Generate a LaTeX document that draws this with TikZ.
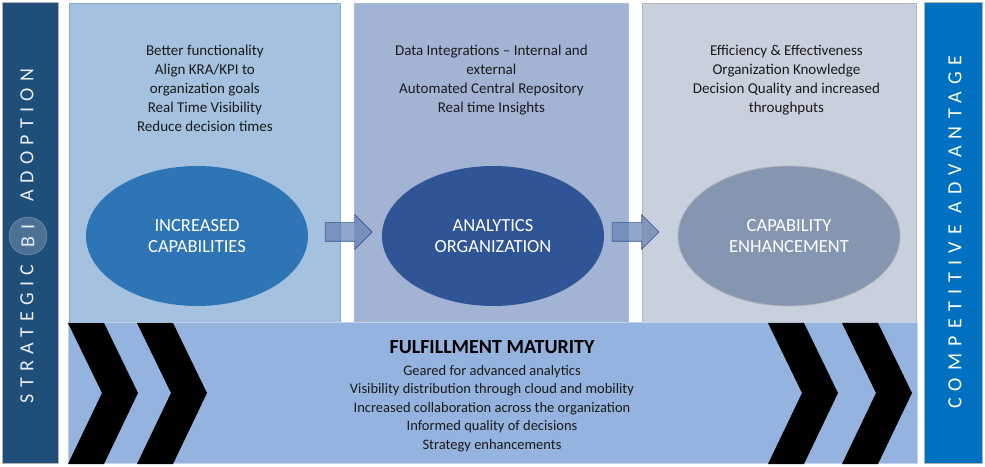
\documentclass[tikz,border=0pt]{standalone}
\usepackage{fontspec}
\setmainfont{Carlito}
\newfontfamily\leftspaced[LetterSpace=32]{Carlito}
\newfontfamily\rightspaced[LetterSpace=36]{Carlito}
\usepackage{tikz}
\usetikzlibrary{positioning, calc, shapes.geometric, shapes.arrows}

\definecolor{leftbar}{HTML}{1F4E79}
\definecolor{rightbar}{HTML}{0070C0}
\definecolor{panelA}{HTML}{A4C2DF}
\definecolor{panelB}{HTML}{A3B3D3}
\definecolor{panelC}{HTML}{C9D0DD}
\definecolor{bandfill}{HTML}{95B3DF}
\definecolor{ellA}{HTML}{2E75B6}
\definecolor{ellB}{HTML}{2F5597}
\definecolor{ellC}{HTML}{8496B0}
\definecolor{bodytext}{HTML}{1A1A1A}

\begin{document}
\begin{tikzpicture}[x=1pt, y=1pt,
    panel/.style={draw, line width=0.8pt, anchor=south west, minimum height=320pt, inner sep=0},
    paneltext/.style={anchor=north, align=center, inner sep=0, text=bodytext, font=\fontsize{15}{19}\selectfont},
    bubble/.style={ellipse, minimum width=222pt, minimum height=140pt, inner sep=0, align=center,
        text=white, font=\fontsize{18.5}{21}\selectfont},
    blockarrow/.style={single arrow, minimum height=47pt, single arrow head extend=8pt,
        inner xsep=0, inner ysep=9pt, fill=ellB!75!white, fill opacity=0.7, draw=ellB, line width=0.6pt},
    sidebar/.style={anchor=south west, minimum height=460pt, inner sep=0, draw=black!30, line width=0.5pt},
    bartext/.style={rotate=90, inner sep=0, text=white!90!leftbar, font=\fontsize{20}{24}\selectfont}]
    \useasboundingbox (0,0) rectangle (985,466);

    % Side bars
    \node[sidebar, fill=leftbar, minimum width=56pt] (lbar) at (2,3) {};
    \node[sidebar, fill=rightbar, minimum width=58pt] (rbar) at (924,3) {};
    \node[bartext] (strat) at (27,132) {\leftspaced STRATEGIC};
    \node[bartext, circle, minimum size=38pt, fill=leftbar!80!white, draw=leftbar!55!white] (bi) at (28,230) {\leftspaced BI};
    \node[bartext] (adopt) at (27,331) {\leftspaced ADOPTION};
    \node[bartext, text=white] (compadv) at (955,234) {\rightspaced COMPETITIVE ADVANTAGE};

    % Three stages
    \node[panel, fill=panelA, draw=ellA!60!white, minimum width=271pt] (p1) at (69,142) {};
    \node[panel, fill=panelB, draw=ellA!45!white, minimum width=274pt] (p2) at (354,142) {};
    \node[panel, fill=panelC, draw=black!30, minimum width=274pt] (p3) at (642,142) {};

    \node[paneltext] (t1) at ([yshift=-42pt]p1.north) {Better functionality\\Align KRA/KPI to\\organization goals\\Real Time Visibility\\Reduce decision times};
    \node[paneltext] (t2) at ([yshift=-42pt]p2.north) {Data Integrations -- Internal and\\external\\Automated Central Repository\\Real time Insights};
    \node[paneltext] (t3) at ([xshift=7pt, yshift=-42pt]p3.north) {Efficiency \& Effectiveness\\Organization Knowledge\\Decision Quality and increased\\throughputs};

    \node[bubble, fill=ellA] (inc) at (197,230) {INCREASED\\CAPABILITIES};
    \node[bubble, fill=ellB] (ana) at (493,230) {ANALYTICS\\ORGANIZATION};
    \node[bubble, fill=ellC, draw=black!30, line width=0.8pt] (cap) at (789,230) {CAPABILITY\\ENHANCEMENT};

    % Arrows between the stages
    \node[blockarrow, xshift=-1pt, yshift=4pt] (arr1) at ($(inc.east)!0.5!(ana.west)$) {};
    \node[blockarrow, xshift=-10pt, yshift=4pt] (arr2) at ($(ana.east)!0.5!(cap.west)$) {};

    % Bottom band with chevrons
    \node[anchor=south west, minimum width=849pt, minimum height=141pt, inner sep=0, fill=bandfill,
        draw=bandfill!60!white, line width=0.6pt] (band) at (68,2) {};
    \foreach \cx in {68,137,768,842}
        \fill[black] (\cx,143) -- (\cx+36,143) -- (\cx+70,73) -- (\cx+36,2) -- (\cx,2) -- (\cx+34,73) -- cycle;

    \node[inner sep=0, text=black, font=\bfseries\fontsize{20}{24}\selectfont] (fmtitle) at (492,119) {FULFILLMENT MATURITY};
    \node[below=11pt of fmtitle, inner sep=0, align=center, text=bodytext, font=\fontsize{14.5}{18.5}\selectfont] (fmlist)
        {Geared for advanced analytics\\Visibility distribution through cloud and mobility\\Increased collaboration across the organization\\Informed quality of decisions\\Strategy enhancements};

\end{tikzpicture}
\end{document}
